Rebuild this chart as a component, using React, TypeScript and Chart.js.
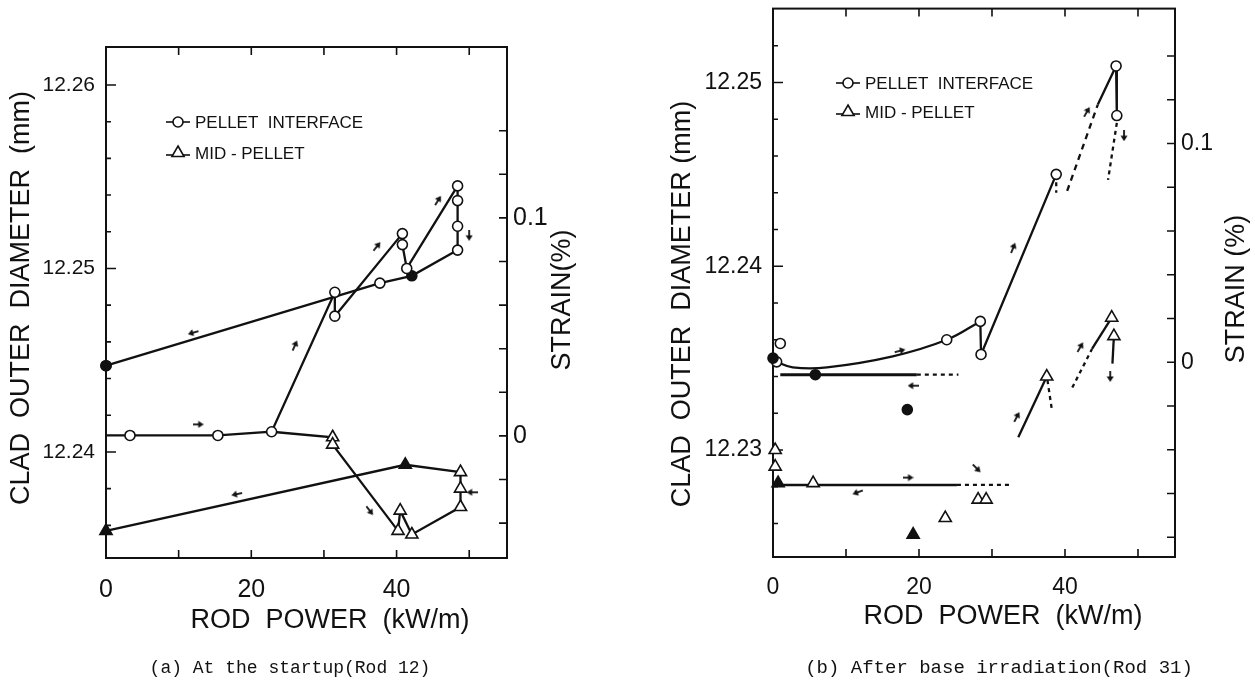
import { useEffect, useRef } from 'react';
import { Chart, registerables } from 'chart.js';

Chart.register(...registerables);

const INK = '#111';
const SANS = "'Liberation Sans', Arial, sans-serif";
const MONO = "'Liberation Mono', 'DejaVu Sans Mono', monospace";

// ---------- (a) Rod 12, at the startup ----------
// pellet interface, power ascension and hold steps
const aIfaceUpPower = [0, 3.3, 15.4, 22.8, 31.5, 31.5, 40.8, 40.8, 41.4, 48.4, 48.4, 48.4, 48.4];
const aIfaceUpDiam = [12.2409, 12.2409, 12.2409, 12.2411, 12.2487, 12.2474, 12.2519, 12.2513, 12.25, 12.2545, 12.2537, 12.2523, 12.251];
const aIfaceUpMarks = ['', 'o', 'o', 'o', 'o', 'o', 'o', 'o', 'o', 'o', 'o', 'o', 'o'];
// pellet interface, power reduction
const aIfaceDownPower = [48.4, 42.1, 37.7, 0];
const aIfaceDownDiam = [12.251, 12.2496, 12.2492, 12.2447];
const aIfaceDownMarks = ['', 'f', 'o', 'f'];
// mid-pellet, power ascension and hold steps
const aMidUpPower = [22.8, 31.2, 31.2, 40.2, 40.5, 42.1, 48.8, 48.8, 48.8];
const aMidUpDiam = [12.2411, 12.2408, 12.2404, 12.2357, 12.2368, 12.2355, 12.237, 12.238, 12.2389];
const aMidUpMarks = ['', 't', 't', 't', 't', 't', 't', 't', 't'];
// mid-pellet, power reduction
const aMidDownPower = [48.8, 41.2, 0];
const aMidDownDiam = [12.2389, 12.2393, 12.2357];
const aMidDownMarks = ['', 'T', 'T'];
// direction arrows along the paths
const aArrowPower = [12.0, 26.0, 37.3, 45.7, 50.0, 12.7, 18.0, 36.3, 50.4];
const aArrowDiam = [12.2465, 12.2458, 12.2512, 12.2537, 12.2518, 12.2415, 12.2377, 12.2368, 12.2378];
const aArrowDir = [254, 24, 39, 32, 180, 90, 258, 143, 270];
// axes
const aDiamLabels = [12.24, 12.25, 12.26];
const aDiamTicks = [12.236, 12.238, 12.24, 12.242, 12.244, 12.246, 12.248, 12.25, 12.252, 12.254, 12.256, 12.258, 12.26];
const aStrainLabels = [0, 0.1];
const aStrainTicks = [-0.04, -0.02, 0, 0.02, 0.04, 0.06, 0.08, 0.1, 0.12, 0.14];
const powerLabels = [0, 20, 40];
const powerTicks = [10, 20, 30, 40, 50];

// ---------- (b) Rod 31, after base irradiation ----------
const bIfaceCurvePower = [0.5, 2.7, 7.4, 16.4, 23.8, 28.4];
const bIfaceCurveDiam = [12.2348, 12.2345, 12.2345, 12.2351, 12.236, 12.237];
const bIfaceCurveMarks = ['o', '', '', '', 'o', 'o'];
const bIfaceRampPower = [28.4, 28.5, 38.8];
const bIfaceRampDiam = [12.237, 12.2352, 12.245];
const bIfaceRampMarks = ['', 'o', 'o'];
const bIfaceDrop1Power = [38.8, 38.8];
const bIfaceDrop1Diam = [12.245, 12.244];
const bIfaceRise2Power = [40.3, 44.5];
const bIfaceRise2Diam = [12.2441, 12.2488];
const bIfacePeakPower = [44.5, 47.0, 47.1];
const bIfacePeakDiam = [12.2488, 12.2509, 12.2482];
const bIfacePeakMarks = ['', 'o', 'o'];
const bIfaceDrop2Power = [47.1, 45.9];
const bIfaceDrop2Diam = [12.2478, 12.2447];
const bIfaceOpenPower = [1.0];
const bIfaceOpenDiam = [12.2358];
const bIfaceFilledPower = [0, 5.8, 18.4];
const bIfaceFilledDiam = [12.235, 12.2341, 12.2322];
const bIfaceReturnPower = [1.0, 19.7];
const bIfaceReturnDiam = [12.2341, 12.2341];
const bIfaceReturnDotPower = [19.7, 25.4];
const bIfaceReturnDotDiam = [12.2341, 12.2341];

const bMidOpenPower = [0.3, 0.3, 5.5, 23.6, 28.1, 29.2];
const bMidOpenDiam = [12.23, 12.2291, 12.2282, 12.2263, 12.2273, 12.2273];
const bMidFilledPower = [0.7, 19.2];
const bMidFilledDiam = [12.2282, 12.2254];
const bMidFlatPower = [0, 25.2];
const bMidFlatDiam = [12.2281, 12.2281];
const bMidFlatDotPower = [25.2, 32.5];
const bMidFlatDotDiam = [12.2281, 12.2281];
const bMidRamp1Power = [33.6, 37.5];
const bMidRamp1Diam = [12.2307, 12.234];
const bMidRamp1Marks = ['', 't'];
const bMidDrop1Power = [37.6, 38.2];
const bMidDrop1Diam = [12.2338, 12.2322];
const bMidRise2Power = [41.0, 43.7];
const bMidRise2Diam = [12.2334, 12.2355];
const bMidRamp2Power = [43.7, 46.4];
const bMidRamp2Diam = [12.2355, 12.2372];
const bMidRamp2Marks = ['', 't'];
const bMidDrop2Power = [46.7, 46.5];
const bMidDrop2Diam = [12.2362, 12.2347];
const bMidDrop2Marks = ['t', ''];

const bArrowPower = [17.4, 19.2, 32.9, 43.0, 48.1, 42.1, 33.4, 46.2, 18.5, 11.6, 27.9];
const bArrowDiam = [12.2354, 12.2335, 12.241, 12.2484, 12.2471, 12.2356, 12.2318, 12.234, 12.2285, 12.2277, 12.229];
const bArrowDir = [75, 270, 22, 30, 180, 30, 28, 180, 90, 250, 135];

const bDiamLabels = [12.23, 12.24, 12.25];
const bDiamTicks = [12.226, 12.228, 12.23, 12.232, 12.234, 12.236, 12.238, 12.24, 12.242, 12.244, 12.246, 12.248, 12.25, 12.252];
const bStrainLabels = [0, 0.1];
const bStrainTicks = [-0.08, -0.06, -0.04, -0.02, 0, 0.02, 0.04, 0.06, 0.08, 0.1, 0.12, 0.14];

type Mark = '' | 'o' | 'f' | 't' | 'T';
const MARK: Record<string, { style: string; r: number; bg: string }> = {
  '': { style: 'circle', r: 0, bg: '#fff' },
  o: { style: 'circle', r: 5, bg: '#fff' },
  f: { style: 'circle', r: 5, bg: INK },
  t: { style: 'triangle', r: 7, bg: '#fff' },
  T: { style: 'triangle', r: 7, bg: INK },
};

// small arrow glyph pointing up; rotated per point by Chart.js
function arrowGlyph() {
  const c = document.createElement('canvas');
  c.width = 8;
  c.height = 11;
  const g = c.getContext('2d')!;
  g.fillStyle = INK;
  g.strokeStyle = INK;
  g.lineWidth = 1.8;
  g.beginPath();
  g.moveTo(4, 0);
  g.lineTo(7.5, 5.5);
  g.lineTo(0.5, 5.5);
  g.closePath();
  g.fill();
  g.beginPath();
  g.moveTo(4, 4);
  g.lineTo(4, 11);
  g.stroke();
  return c;
}

function series(xs: number[], ys: number[], marks: string[] | null, opt: { line?: boolean; dash?: number[]; width?: number; tension?: number; order?: number } = {}) {
  const m = marks ?? xs.map(() => '');
  return {
    data: xs.map((x, i) => ({ x, y: ys[i] })),
    showLine: opt.line !== false,
    borderColor: INK,
    borderWidth: opt.width ?? 2.3,
    borderDash: opt.dash ?? [],
    tension: opt.tension ?? 0,
    pointStyle: m.map((k) => MARK[k].style),
    pointRadius: m.map((k) => MARK[k].r),
    pointBackgroundColor: m.map((k) => MARK[k].bg),
    pointBorderColor: INK,
    pointBorderWidth: 1.6,
    order: opt.order ?? 1,
    clip: false as const,
  };
}

function marks(xs: number[], ys: number[], k: Mark) {
  return series(xs, ys, xs.map(() => k), { line: false, order: 0 });
}

function arrows(xs: number[], ys: number[], dirs: number[]) {
  return {
    data: xs.map((x, i) => ({ x, y: ys[i] })),
    showLine: false,
    pointStyle: 'arrow',
    pointRadius: 5,
    pointRotation: dirs,
    order: 0,
    clip: false as const,
  };
}

const DOT = [4, 4];
const DASH = [6, 5];

type TextItem = { text: string; x: number; y: number; size: number; font?: string; rotate?: boolean };
type Panel = {
  left: number;
  width: number;
  area: { left: number; right: number; top: number; bottom: number };
  xMax: number;
  yMin: number;
  yMax: number;
  y2Min: number;
  y2Max: number;
  diamLabels: number[];
  diamTicks: number[];
  strainLabels: number[];
  strainTicks: number[];
  leftFont: number;
  bottomFont: number;
  rightFont: number;
  bottomPad: number;
  texts: TextItem[];
  legend: { x: number; y: number; gap: number };
  datasets: any[];
};

const panelA: Panel = {
  left: 0,
  width: 627,
  area: { left: 106, right: 507, top: 47, bottom: 558 },
  xMax: 55.2,
  yMin: 12.23422,
  yMax: 12.26207,
  y2Min: -0.056,
  y2Max: 0.1784,
  diamLabels: aDiamLabels,
  diamTicks: aDiamTicks,
  strainLabels: aStrainLabels,
  strainTicks: aStrainTicks,
  leftFont: 21,
  bottomFont: 25,
  rightFont: 25,
  bottomPad: 17,
  legend: { x: 166, y: 122, gap: 31 },
  texts: [
    { text: 'CLAD  OUTER  DIAMETER  (mm)', x: 22, y: 298, size: 27, rotate: true },
    { text: 'STRAIN(%)', x: 563, y: 300, size: 27, rotate: true },
    { text: 'ROD  POWER  (kW/m)', x: 330, y: 621, size: 27 },
    { text: '(a) At the startup(Rod 12)', x: 290, y: 668, size: 18, font: MONO },
  ],
  datasets: [
    marks([0], [12.2447], 'f'),
    series(aIfaceUpPower, aIfaceUpDiam, aIfaceUpMarks),
    series(aIfaceDownPower, aIfaceDownDiam, aIfaceDownMarks),
    series(aMidUpPower, aMidUpDiam, aMidUpMarks),
    series(aMidDownPower, aMidDownDiam, aMidDownMarks),
    arrows(aArrowPower, aArrowDiam, aArrowDir),
  ],
};

const panelB: Panel = {
  left: 627,
  width: 628,
  area: { left: 146, right: 548, top: 8, bottom: 557 },
  xMax: 55.07,
  yMin: 12.22418,
  yMax: 12.25402,
  y2Min: -0.08904,
  y2Max: 0.16164,
  diamLabels: bDiamLabels,
  diamTicks: bDiamTicks,
  strainLabels: bStrainLabels,
  strainTicks: bStrainTicks,
  leftFont: 23,
  bottomFont: 23,
  rightFont: 23,
  bottomPad: 17,
  legend: { x: 209, y: 83, gap: 29 },
  texts: [
    { text: 'CLAD  OUTER  DIAMETER (mm)', x: 56, y: 304, size: 27, rotate: true },
    { text: 'STRAIN (%)', x: 610, y: 289, size: 27, rotate: true },
    { text: 'ROD  POWER  (kW/m)', x: 376, y: 617, size: 27 },
    { text: '(b) After base irradiation(Rod 31)', x: 372, y: 668, size: 19, font: MONO },
  ],
  datasets: [
    marks(bIfaceOpenPower, bIfaceOpenDiam, 'o'),
    marks(bIfaceFilledPower, bIfaceFilledDiam, 'f'),
    marks(bMidOpenPower, bMidOpenDiam, 't'),
    marks(bMidFilledPower, bMidFilledDiam, 'T'),
    series(bIfaceCurvePower, bIfaceCurveDiam, bIfaceCurveMarks, { tension: 0.4 }),
    series(bIfaceRampPower, bIfaceRampDiam, bIfaceRampMarks),
    series(bIfaceDrop1Power, bIfaceDrop1Diam, null, { dash: DOT }),
    series(bIfaceRise2Power, bIfaceRise2Diam, null, { dash: DASH }),
    series(bIfacePeakPower, bIfacePeakDiam, bIfacePeakMarks),
    series(bIfaceDrop2Power, bIfaceDrop2Diam, null, { dash: DOT }),
    series(bIfaceReturnPower, bIfaceReturnDiam, null, { width: 3 }),
    series(bIfaceReturnDotPower, bIfaceReturnDotDiam, null, { dash: DOT }),
    series(bMidFlatPower, bMidFlatDiam, null, { width: 2.6 }),
    series(bMidFlatDotPower, bMidFlatDotDiam, null, { dash: DOT }),
    series(bMidRamp1Power, bMidRamp1Diam, bMidRamp1Marks),
    series(bMidDrop1Power, bMidDrop1Diam, null, { dash: DOT }),
    series(bMidRise2Power, bMidRise2Diam, null, { dash: DOT }),
    series(bMidRamp2Power, bMidRamp2Diam, bMidRamp2Marks),
    series(bMidDrop2Power, bMidDrop2Diam, bMidDrop2Marks),
    arrows(bArrowPower, bArrowDiam, bArrowDir),
  ],
};

function drawMarker(ctx: CanvasRenderingContext2D, kind: 'o' | 't', x: number, y: number) {
  ctx.beginPath();
  if (kind === 'o') {
    ctx.arc(x, y, 5, 0, Math.PI * 2);
  } else {
    const r = 7;
    ctx.moveTo(x, y - r);
    ctx.lineTo(x + r * Math.sin((2 * Math.PI) / 3), y - r * Math.cos((2 * Math.PI) / 3));
    ctx.lineTo(x + r * Math.sin((4 * Math.PI) / 3), y - r * Math.cos((4 * Math.PI) / 3));
    ctx.closePath();
  }
  ctx.fillStyle = '#fff';
  ctx.fill();
  ctx.lineWidth = 1.6;
  ctx.stroke();
}

const decor = {
  id: 'decor',
  beforeDatasetsDraw(chart: any) {
    const p: Panel = chart.options.plugins.decor.panel;
    const { ctx, chartArea: a } = chart;
    const { x, y, y2 } = chart.scales;
    ctx.save();
    ctx.strokeStyle = INK;
    ctx.lineWidth = 2;
    ctx.strokeRect(a.left, a.top, a.right - a.left, a.bottom - a.top);
    ctx.lineWidth = 1.6;
    ctx.beginPath();
    for (const v of powerTicks) {
      const px = x.getPixelForValue(v);
      ctx.moveTo(px, a.bottom);
      ctx.lineTo(px, a.bottom - 8);
      ctx.moveTo(px, a.top);
      ctx.lineTo(px, a.top + 8);
    }
    for (const v of p.diamTicks) {
      const py = y.getPixelForValue(v);
      if (py < a.top + 3 || py > a.bottom - 3) continue;
      const major = p.diamLabels.some((l) => Math.abs(l - v) < 1e-6);
      ctx.moveTo(a.left, py);
      ctx.lineTo(a.left + (major ? 10 : 5), py);
    }
    for (const v of p.strainTicks) {
      const py = y2.getPixelForValue(v);
      if (py < a.top + 3 || py > a.bottom - 3) continue;
      ctx.moveTo(a.right, py);
      ctx.lineTo(a.right - 8, py);
    }
    ctx.stroke();
    ctx.restore();
  },
  afterDraw(chart: any) {
    const p: Panel = chart.options.plugins.decor.panel;
    const { ctx } = chart;
    ctx.save();
    ctx.fillStyle = INK;
    ctx.textAlign = 'center';
    ctx.textBaseline = 'middle';
    for (const t of p.texts) {
      ctx.font = `${t.size}px ${t.font ?? SANS}`;
      if (t.rotate) {
        ctx.save();
        ctx.translate(t.x, t.y);
        ctx.rotate(-Math.PI / 2);
        ctx.fillText(t.text, 0, 0);
        ctx.restore();
      } else {
        ctx.fillText(t.text, t.x, t.y);
      }
    }
    // legend
    const L = p.legend;
    const rows: [string, 'o' | 't'][] = [
      ['PELLET  INTERFACE', 'o'],
      ['MID - PELLET', 't'],
    ];
    rows.forEach(([label, kind], i) => {
      const yy = L.y + i * L.gap;
      ctx.strokeStyle = INK;
      ctx.lineWidth = 1.6;
      ctx.beginPath();
      ctx.moveTo(L.x, yy + (kind === 't' ? 2 : 0));
      ctx.lineTo(L.x + 24, yy + (kind === 't' ? 2 : 0));
      ctx.stroke();
      drawMarker(ctx, kind, L.x + 12, yy);
      ctx.fillStyle = INK;
      ctx.font = `17px ${SANS}`;
      ctx.textAlign = 'left';
      ctx.fillText(label, L.x + 29, yy + 1);
    });
    ctx.restore();
  },
};

function fmt(v: number) {
  return String(Number(v.toFixed(4)));
}

function noPad(s: any) {
  s.paddingTop = 0;
  s.paddingBottom = 0;
  s.paddingLeft = 0;
  s.paddingRight = 0;
}

function makeChart(canvas: HTMLCanvasElement, p: Panel) {
  const a = p.area;
  const glyph = arrowGlyph();
  const datasets = p.datasets.map((d) => (d.pointStyle === 'arrow' ? { ...d, pointStyle: glyph } : d));
  return new Chart(canvas, {
    type: 'scatter',
    data: { datasets },
    plugins: [decor],
    options: {
      animation: false,
      responsive: false,
      devicePixelRatio: 1,
      events: [],
      layout: { padding: { top: a.top, left: 0, right: 0, bottom: 0 } },
      plugins: {
        legend: { display: false },
        tooltip: { enabled: false },
        decor: { panel: p },
      } as any,
      scales: {
        x: {
          type: 'linear',
          min: 0,
          max: p.xMax,
          grid: { display: false, drawTicks: false },
          border: { display: false },
          afterFit: (s: any) => {
            s.height = 686 - a.bottom;
            noPad(s);
          },
          afterBuildTicks: (s: any) => {
            s.ticks = powerLabels.map((v) => ({ value: v }));
          },
          ticks: {
            autoSkip: false,
            maxRotation: 0,
            padding: p.bottomPad,
            color: INK,
            font: { family: SANS, size: p.bottomFont },
            callback: (v: any) => fmt(Number(v)),
          },
        },
        y: {
          type: 'linear',
          position: 'left',
          min: p.yMin,
          max: p.yMax,
          grid: { display: false, drawTicks: false },
          border: { display: false },
          afterFit: (s: any) => {
            s.width = a.left;
            noPad(s);
          },
          afterBuildTicks: (s: any) => {
            s.ticks = p.diamLabels.map((v) => ({ value: v }));
          },
          ticks: {
            autoSkip: false,
            padding: 11,
            color: INK,
            font: { family: SANS, size: p.leftFont },
            callback: (v: any) => Number(v).toFixed(2),
          },
        },
        y2: {
          type: 'linear',
          position: 'right',
          min: p.y2Min,
          max: p.y2Max,
          grid: { display: false, drawTicks: false },
          border: { display: false },
          afterFit: (s: any) => {
            s.width = p.width - a.right;
            noPad(s);
          },
          afterBuildTicks: (s: any) => {
            s.ticks = p.strainLabels.map((v) => ({ value: v }));
          },
          ticks: {
            autoSkip: false,
            padding: 6,
            color: INK,
            font: { family: SANS, size: p.rightFont },
            callback: (v: any) => fmt(Number(v)),
          },
        },
      },
    } as any,
  });
}

function PanelCanvas({ panel }: { panel: Panel }) {
  const ref = useRef<HTMLCanvasElement>(null);
  useEffect(() => {
    if (!ref.current) return;
    const chart = makeChart(ref.current, panel);
    return () => chart.destroy();
  }, [panel]);
  return (
    <canvas
      ref={ref}
      width={panel.width}
      height={686}
      style={{ position: 'absolute', left: panel.left, top: 0, width: panel.width, height: 686 }}
    />
  );
}

export default function App() {
  return (
    <div style={{ position: 'absolute', left: 0, top: 0, width: 1255, height: 686, background: '#fff', overflow: 'hidden' }}>
      <PanelCanvas panel={panelA} />
      <PanelCanvas panel={panelB} />
    </div>
  );
}
